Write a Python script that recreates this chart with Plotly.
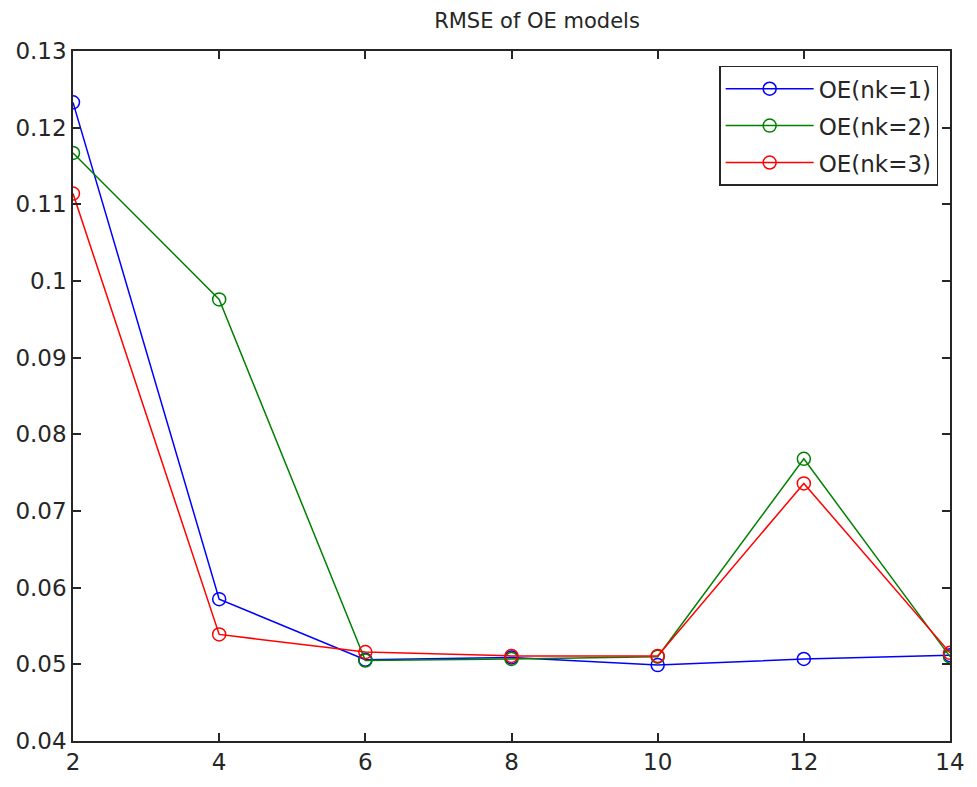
import plotly.graph_objects as go

x_vals = [2, 4, 6, 8, 10, 12, 14]
oe_nk1 = [0.1233, 0.0585, 0.0506, 0.0509, 0.0499, 0.0507, 0.0512]
oe_nk2 = [0.1167, 0.0976, 0.0505, 0.0507, 0.0510, 0.0768, 0.0510]
oe_nk3 = [0.1114, 0.0539, 0.0516, 0.0511, 0.0511, 0.0736, 0.0515]
series_names = ["OE(nk=1)", "OE(nk=2)", "OE(nk=3)"]
series_colors = ["#0000ff", "#008000", "#ff0000"]
y_ticks = [0.04, 0.05, 0.06, 0.07, 0.08, 0.09, 0.10, 0.11, 0.12, 0.13]
y_ticktext = ["0.04", "0.05", "0.06", "0.07", "0.08", "0.09", "0.1", "0.11", "0.12", "0.13"]

FONT = "DejaVu Sans, Liberation Sans, Arial, sans-serif"
INK = "#262626"

fig = go.Figure()
for name, ys, col in zip(series_names, [oe_nk1, oe_nk2, oe_nk3], series_colors):
    fig.add_trace(go.Scatter(
        x=x_vals, y=ys, name=name, mode="lines+markers", legendgroup=name,
        line=dict(color=col, width=1.5),
        marker=dict(symbol="circle-open", size=13, color=col, line=dict(width=1.5, color=col)),
    ))

axis_common = dict(
    showgrid=False, zeroline=False, showline=True, linecolor=INK, linewidth=1.5,
    mirror="ticks", ticks="inside", ticklen=8, tickwidth=1.5, tickcolor=INK,
    tickfont=dict(family=FONT, size=23, color=INK),
)

fig.update_layout(
    width=977, height=787,
    margin=dict(l=73, r=17, t=51, b=36),
    paper_bgcolor="white", plot_bgcolor="white",
    title=dict(text="RMSE of OE models", x=537 / 977, xanchor="center",
               y=1 - 21 / 787, yanchor="middle",
               font=dict(family=FONT, size=21, color=INK)),
    xaxis=dict(range=[2, 14], tickvals=x_vals, **axis_common),
    yaxis=dict(range=[0.04, 0.13], tickvals=y_ticks, ticktext=y_ticktext, **axis_common),
    legend=dict(
        x=0.9865, y=0.9786, xanchor="right", yanchor="top",
        bgcolor="white", bordercolor=INK, borderwidth=1.5,
        font=dict(family=FONT, size=23, color=INK),
        itemwidth=88, tracegroupgap=4,
    ),
    showlegend=True,
)

fig.write_html("out.html")
